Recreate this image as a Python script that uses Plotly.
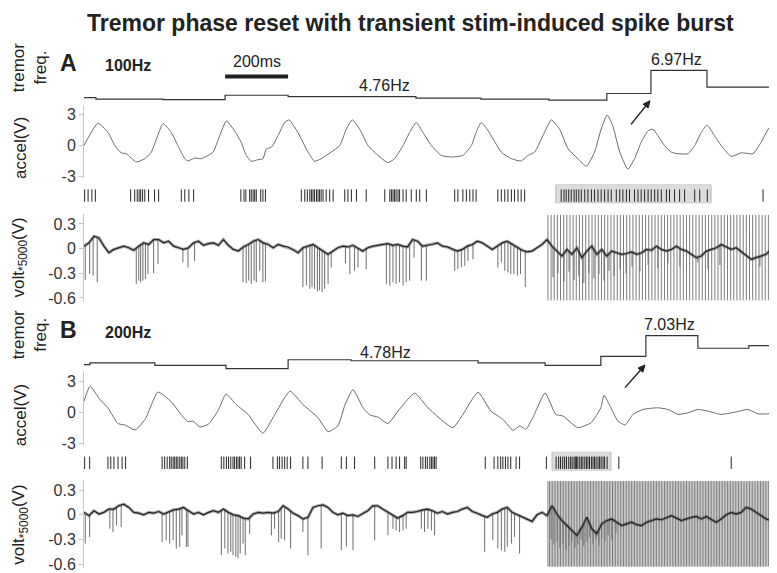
import numpy as np
import plotly.graph_objects as go

W, H = 777, 573
L, R = 76, 4
T_END = 2213          # ms across the plot width
STIM_ON = 1473        # ms, stimulation onset
FONT = "Liberation Sans, Arial, sans-serif"

# ---------------- panel A : 100Hz ----------------
STIM_RATE_A = 100
FREQ_A_T = [0, 38, 251, 448, 648, 1054, 1260, 1476, 1660, 1800, 1978, 2178]
FREQ_A = [4.68, 4.55, 4.51, 4.88, 4.76, 4.64, 4.55, 4.47, 5.03, 6.97, 5.56, 4.76]

ACCEL_A_T = [0, 44, 76, 98, 118, 134, 166, 193, 214, 230, 251, 277, 298, 320, 330, 351, 372, 394, 410, 431,
             452, 478, 499, 515, 531, 552, 568, 579, 595, 616, 637, 651, 679, 711, 732, 753, 785, 812, 833, 852,
             875, 902, 933, 965, 986, 1013, 1034, 1055, 1076, 1103, 1134, 1166, 1203, 1230, 1245, 1261, 1283,
             1325, 1357, 1388, 1410, 1431, 1457, 1484, 1510, 1537, 1568, 1595, 1621, 1642, 1661, 1679, 1701,
             1727, 1748, 1769, 1791, 1806, 1822, 1843, 1864, 1886, 1918, 1939, 1960, 1978, 2002, 2023, 2055,
             2087, 2124, 2150, 2177, 2198, 2213]
ACCEL_A = [0, 2.16, 1.27, 0, -0.70, -0.79, -1.59, -1.27, -0.63, 0.63, 2.13, 1.27, 0, -1.27, -1.49, -1.21, -1.27,
           -0.95, -0.63, 0.95, 2.38, 1.43, 0.32, -0.95, -1.52, -1.37, -1.27, -0.32, -0.16, 0.95, 2.22, 2.48, 1.27,
           -0.63, -1.52, -1.27, -0.63, 0, 1.59, 2.48, 1.59, 0, -0.95, -1.65, -1.27, 0, 1.27, 2.22, 1.27, 0, -0.95,
           -1.11, -0.95, 0, 1.27, 2.22, 1.43, -0.63, -1.27, -1.49, -0.95, -0.63, 0.95, 2.48, 1.59, -0.32, -1.27,
           -2.0, -0.63, 1.59, 2.95, 1.90, -0.63, -2.29, -1.27, 0.32, 1.43, 1.59, 0.95, 0, -0.63, -0.79, -0.79, 0,
           1.27, 1.97, 0.95, 0, -1.05, -0.70, -0.79, 0.32, 1.75, 1.27, 0.16]

SPIKES_A = [2, 13, 25, 36, 148, 161, 169, 175, 180, 186, 193, 205, 224, 237, 309, 320, 333, 348, 498, 508, 514,
            526, 531, 537, 542, 547, 561, 568, 576, 690, 701, 709, 717, 722, 727, 732, 738, 743, 748, 753, 759,
            769, 780, 791, 828, 838, 849, 865, 896, 955, 971, 976, 981, 986, 991, 997, 1002, 1013, 1023, 1039,
            1055, 1066, 1087, 1177, 1187, 1203, 1214, 1225, 1235, 1245, 1314, 1325, 1336, 1346, 1357, 1367, 1378,
            1388, 1399, 1515, 1524, 1531, 1539, 1547, 1556, 1563, 1571, 1579, 1590, 1600, 1611, 1621, 1632, 1642,
            1653, 1664, 1674, 1690, 1701, 1711, 1722, 1732, 1748, 1759, 1769, 1780, 1791, 1801, 1812, 1822, 1833,
            1849, 1859, 1875, 1891, 1907, 1939, 1955, 1979, 2156, 2177]
BOX_A = [1498, 1991]

# volt*5000 baseline, evenly sampled over the sweep
VOLT_A = [0.03, 0.07, 0.15, 0.13, 0.03, -0.05, -0.01, 0.01, 0.03, 0.01, -0.02, 0.03, 0.07, 0.05, 0.11, 0.11,
          0.07, 0.09, 0.03, 0.01, -0.01, 0.01, 0.07, 0.09, 0.04, 0.06, 0.07, 0.04, 0.11, 0.04, -0.01, -0.03,
          0.02, 0.05, 0.09, 0.11, 0.07, 0.05, 0.01, 0.05, 0.03, 0.02, -0.01, -0.05, 0.01, 0.03, 0.05, 0.01,
          -0.03, -0.07, -0.03, 0.01, 0.03, 0.02, 0.04, 0.0, -0.03, 0.01, 0.03, 0.04, 0.05, 0.06, 0.04, 0.05,
          0.03, 0.02,
          0.11, 0.09, 0.03, 0.04, 0.05, 0.07, 0.03, 0.02, -0.01, -0.03, -0.01, 0.03, 0.05, 0.09, 0.07, 0.03,
          -0.01, 0.03, 0.07, 0.09, 0.05, 0.01, -0.02, -0.04, -0.03, 0.01, 0.05, 0.11,
          0.03, -0.03, -0.09, -0.01, -0.07, 0.01, -0.11, -0.03, 0.03, -0.07, -0.01, -0.09, -0.03, -0.05, -0.07,
          -0.06, -0.04, -0.07, -0.05, -0.01, -0.02, 0.03, -0.01, -0.03, -0.01, 0.03, -0.01, -0.03, -0.07, -0.11,
          -0.09, -0.03, -0.01, 0.01, 0.05, 0.02, -0.01, 0.01, -0.04, -0.09, -0.13, -0.11, -0.09, -0.07, -0.01,
          0.03, 0.07]
UNIT_A_T = [4, 18, 29, 42, 166, 174, 180, 187, 195, 203, 221, 235, 314, 330, 351, 505, 515, 523, 531, 540, 547,
            558, 568, 576, 695, 706, 717, 724, 732, 741, 748, 756, 764, 775, 785, 830, 844, 859, 870, 896, 960,
            971, 981, 991, 1002, 1013, 1023, 1034, 1048, 1071, 1087, 1177, 1187, 1198, 1209, 1219, 1235, 1314,
            1325, 1336, 1346, 1355, 1365, 1376, 1386, 1401]
UNIT_A = [-0.38, -0.31, -0.33, -0.41, -0.43, -0.39, -0.41, -0.39, -0.37, -0.31, -0.30, -0.19, -0.17, -0.23, -0.15,
          -0.41, -0.42, -0.39, -0.43, -0.39, -0.41, -0.27, -0.41, -0.40, -0.47, -0.45, -0.49, -0.47, -0.49, -0.52,
          -0.51, -0.53, -0.49, -0.43, -0.23, -0.18, -0.31, -0.27, -0.23, -0.25, -0.43, -0.45, -0.41, -0.43, -0.41,
          -0.45, -0.41, -0.39, -0.11, -0.39, -0.39, -0.27, -0.25, -0.23, -0.21, -0.15, -0.13, -0.23, -0.17, -0.27,
          -0.29, -0.31, -0.31, -0.33, -0.31, -0.47]
BURST_A_T = [1489, 1505, 1524, 1540, 1556, 1571, 1587, 1603, 1619, 1635, 1651, 1667, 1683, 1702, 1721, 1740,
             1765, 1791, 1822, 1854, 1892, 1949, 1981, 2019, 2124, 2146]
BURST_A = [-0.35, -0.30, -0.40, -0.28, -0.38, -0.33, -0.42, -0.30, -0.36, -0.31, -0.39, -0.27, -0.33, -0.25,
           -0.30, -0.22, -0.28, -0.20, -0.24, -0.18, -0.22, -0.17, -0.25, -0.20, -0.15, -0.22]

# ---------------- panel B : 200Hz ----------------
STIM_RATE_B = 200
FREQ_B_T = [0, 19, 225, 451, 648, 848, 1251, 1464, 1641, 1784, 1949, 2111]
FREQ_B = [4.43, 4.58, 4.37, 4.07, 4.87, 4.78, 4.58, 4.37, 5.17, 7.03, 5.90, 6.14]

ACCEL_B_T = [0, 19, 51, 76, 108, 130, 162, 194, 235, 276, 308, 330, 346, 368, 394, 425, 451, 483, 521, 568, 600,
             654, 695, 743, 775, 806, 829, 854, 886, 908, 933, 965, 997, 1050, 1092, 1171, 1203, 1251, 1292, 1330,
             1362, 1384, 1403, 1425, 1464, 1498, 1521, 1568, 1610, 1641, 1651, 1673, 1695, 1718, 1743, 1775, 1822,
             1854, 1886, 1918, 1949, 1981, 2022, 2067, 2108, 2140, 2171, 2213]
ACCEL_B = [1.1, 2.55, 1.27, 0.48, -1.05, -1.18, -1.66, -0.64, 2.0, 1.1, -0.16, -0.86, -0.8, -1.37, -1.12, 0.16,
           1.8, 0.8, -0.16, -1.98, -0.48, 2.08, 0.8, -0.48, -1.82, -1.27, 0.8, 2.23, 0.48, -0.22, -0.41, -1.05,
           0.16, 1.9, 0.48, -1.44, -0.16, 1.98, 0.16, -0.64, -1.69, -1.27, -1.6, -0.48, 1.91, -0.16, -0.32, -1.44,
           -0.96, 0.48, 1.69, 0.48, -0.8, -1.18, -0.16, 0.32, 0.48, 0.32, -0.16, 0, 0.32, 0.16, -0.16, 0.06, 0.32,
           -0.1, -0.1, 0.32]

SPIKES_B = [2, 18, 76, 85, 95, 108, 121, 132, 248, 256, 264, 272, 277, 283, 288, 293, 298, 304, 309, 314, 320, 328,
            436, 444, 452, 459, 466, 473, 478, 484, 489, 494, 499, 510, 529, 600, 614, 621, 629, 637, 645, 656, 695,
            711, 756, 817, 833, 859, 923, 965, 978, 991, 1002, 1018, 1023, 1069, 1076, 1084, 1090, 1098, 1103,
            1108, 1113, 1118, 1274, 1302, 1314, 1323, 1330, 1338, 1346, 1355, 1372, 1383, 1468, 1499, 1507, 1513,
            1520, 1526, 1532, 1539, 1545, 1550, 1556, 1560, 1564, 1568, 1574, 1579, 1584, 1590, 1595, 1600, 1605,
            1611, 1616, 1621, 1626, 1632, 1637, 1642, 1648, 1653, 1661, 1698, 2055]
BOX_B = [1486, 1673]

VOLT_B = [0.03, -0.01, 0.05, 0.01, 0.03, 0.07, 0.07, 0.11, 0.13, 0.09, 0.03, 0.02, 0.0, 0.03, 0.02, 0.04, 0.01,
          0.04, 0.06, 0.07, 0.09, 0.05, 0.01, 0.03, 0.0, 0.03, 0.05, 0.03, 0.07, 0.03, 0.0, -0.01, -0.04, -0.05,
          0.01, 0.03, 0.02, 0.03, 0.02, 0.04, 0.11, 0.07, 0.02, -0.01, -0.05, -0.03, 0.09, 0.11, 0.12, 0.09, 0.03,
          0.0, 0.02, -0.01, 0.0, -0.02, 0.01, 0.05, 0.11, 0.11, 0.07, 0.03, 0.0, -0.04, -0.01, 0.03,
          0.03, 0.04, 0.06, 0.07, 0.05, 0.02, 0.04, 0.01, 0.03, 0.04, 0.07, 0.09, 0.04, 0.02, -0.01, -0.03, 0.01,
          0.03, 0.07, 0.09, 0.03, 0.0, -0.03, -0.05, -0.08, 0.0, 0.03, -0.01,
          0.11, 0.01, -0.07, -0.13, -0.19, -0.25, -0.15, -0.03, -0.17, -0.23, -0.11, -0.07, -0.05, -0.09, -0.13,
          -0.11, -0.09, -0.12, -0.13, -0.09, -0.07, -0.05, -0.06, -0.03, -0.01, -0.04, -0.07, -0.05, -0.03, -0.02,
          -0.05, -0.02, -0.06, -0.09, -0.05, 0.0, 0.03, 0.01, 0.03, 0.09, 0.07, 0.03, -0.01, -0.05, -0.07, -0.05,
          -0.03]
UNIT_B_T = [4, 18, 82, 92, 103, 118, 248, 261, 272, 283, 293, 304, 311, 325, 330, 436, 447, 457, 466, 473, 482,
            489, 496, 505, 512, 526, 595, 605, 618, 626, 637, 656, 695, 711, 753, 817, 833, 854, 923, 965, 981,
            991, 1002, 1013, 1023, 1071, 1081, 1092, 1103, 1113, 1272, 1298, 1314, 1325, 1336, 1344, 1357, 1367,
            1383]
UNIT_B = [-0.35, -0.27, -0.17, -0.21, -0.13, -0.15, -0.33, -0.31, -0.35, -0.31, -0.41, -0.39, -0.25, -0.39, -0.39,
          -0.49, -0.41, -0.47, -0.45, -0.49, -0.51, -0.53, -0.47, -0.35, -0.49, -0.23, -0.25, -0.17, -0.33, -0.29,
          -0.31, -0.41, -0.21, -0.49, -0.41, -0.43, -0.39, -0.43, -0.31, -0.25, -0.17, -0.19, -0.21, -0.19, -0.17,
          -0.17, -0.21, -0.17, -0.19, -0.25, -0.45, -0.31, -0.41, -0.43, -0.45, -0.39, -0.35, -0.27, -0.47]
BURST_B_T = [1483, 1492, 1502, 1511, 1521, 1530, 1540, 1549, 1559, 1568, 1578, 1587, 1597, 1606, 1616, 1625, 1635,
             1644, 1654, 1664, 1676, 1689]
BURST_B = [-0.30, -0.36, -0.33, -0.40, -0.35, -0.42, -0.38, -0.33, -0.40, -0.36, -0.30, -0.38, -0.33, -0.27,
           -0.35, -0.30, -0.37, -0.28, -0.32, -0.25, -0.30, -0.22]

ARTIFACT_RANGE = [0.41, -0.63]


def py(px):
    # pixel row -> paper y (no top/bottom margin)
    return 1 - px / H


def xp(px):
    # pixel column -> paper x
    return (px - L) / (W - L - R)


def dom(top, bottom):
    return [py(bottom), py(top)]


def vlines(ts, y0, y1):
    xs, ys = [], []
    for i, t in enumerate(ts):
        a = y0[i] if hasattr(y0, "__len__") else y0
        b = y1[i] if hasattr(y1, "__len__") else y1
        xs += [t, t, None]
        ys += [a, b, None]
    return xs, ys


fig = go.Figure()
panels = [
    dict(freq_t=FREQ_A_T, freq=FREQ_A, acc_t=ACCEL_A_T, acc=ACCEL_A, spikes=SPIKES_A, box=BOX_A,
         volt=VOLT_A, unit_t=UNIT_A_T, unit=UNIT_A, burst_t=BURST_A_T, burst=BURST_A, rate=STIM_RATE_A,
         ax=["y", "y2", "y3", "y4"]),
    dict(freq_t=FREQ_B_T, freq=FREQ_B, acc_t=ACCEL_B_T, acc=ACCEL_B, spikes=SPIKES_B, box=BOX_B,
         volt=VOLT_B, unit_t=UNIT_B_T, unit=UNIT_B, burst_t=BURST_B_T, burst=BURST_B, rate=STIM_RATE_B,
         ax=["y5", "y6", "y7", "y8"]),
]

for p in panels:
    yf, ya, yr, yv = p["ax"]
    fig.add_trace(go.Scatter(x=p["freq_t"] + [T_END], y=p["freq"] + [p["freq"][-1]], mode="lines",
                             line=dict(color="#333333", width=1.2, shape="hv"), yaxis=yf))
    fig.add_trace(go.Scatter(x=p["acc_t"], y=p["acc"], mode="lines",
                             line=dict(color="#6a6a6a", width=1, shape="spline", smoothing=0.5), yaxis=ya))
    xs, ys = vlines(p["spikes"], 0.08, 0.74)
    fig.add_trace(go.Scatter(x=xs, y=ys, mode="lines", line=dict(color="#262626", width=1), yaxis=yr))

    # volt trace: stim artifacts, unit spikes, then the noisy baseline
    stim = np.arange(STIM_ON, T_END, 1000 / p["rate"])
    xs, ys = vlines(stim, ARTIFACT_RANGE[0], ARTIFACT_RANGE[1])
    fig.add_trace(go.Scatter(x=xs, y=ys, mode="lines", line=dict(color="#7d7d7d", width=1), yaxis=yv))
    tv = np.linspace(0, T_END, len(p["volt"]))
    ut = p["unit_t"] + p["burst_t"]
    ua = p["unit"] + p["burst"]
    base = np.interp(ut, tv, p["volt"])
    xs, ys = vlines(ut, base, ua)
    fig.add_trace(go.Scatter(x=xs, y=ys, mode="lines", line=dict(color="#6e6e6e", width=1), yaxis=yv))
    # soft band under the dark core of the noisy baseline
    fig.add_trace(go.Scatter(x=tv, y=p["volt"], mode="lines", line=dict(color="#5a5a5a", width=3.2),
                             opacity=0.5, yaxis=yv))
    fig.add_trace(go.Scatter(x=tv, y=p["volt"], mode="lines", line=dict(color="#222222", width=1.2), yaxis=yv))

tickfont = dict(family=FONT, size=16, color="#333333")
hidden = dict(visible=False, showgrid=False, zeroline=False, anchor="x")
acc_axis = dict(range=[-3.095, 3.95], tickvals=[3, 0, -3], ticktext=["3", "0", "-3"], showline=True,
                linecolor="#c8c8c8", ticks="outside", ticklen=4, tickcolor="#c8c8c8", showgrid=False,
                zeroline=False, tickfont=tickfont, anchor="x")
volt_axis = dict(range=[-0.648, 0.42], tickvals=[0.3, 0, -0.3, -0.6], ticktext=["0.3", "0", "-0.3", "-0.6"],
                 showline=True, linecolor="#c8c8c8", ticks="outside", ticklen=4, tickcolor="#c8c8c8",
                 showgrid=False, zeroline=False, tickfont=tickfont, anchor="x")

fig.update_layout(
    width=W, height=H, margin=dict(l=L, r=R, t=0, b=0), showlegend=False,
    paper_bgcolor="white", plot_bgcolor="white", font=dict(family=FONT, color="#222222"),
    xaxis=dict(range=[0, T_END], visible=False, showgrid=False, zeroline=False),
    yaxis=dict(domain=dom(60, 96), range=[4.26, 7.24], **hidden),
    yaxis2=dict(domain=dom(98, 172), **acc_axis),
    yaxis3=dict(domain=dom(179, 198), range=[0, 1], **hidden),
    yaxis4=dict(domain=dom(209, 298), **volt_axis),
    yaxis5=dict(domain=dom(326, 368), range=[3.87, 7.59], **hidden),
    yaxis6=dict(domain=dom(369, 443), **acc_axis),
    yaxis7=dict(domain=dom(450, 469), range=[0, 1], **hidden),
    yaxis8=dict(domain=dom(479, 568), **volt_axis),
)

for box, yr in [(BOX_A, "y3"), (BOX_B, "y7")]:
    fig.add_shape(type="rect", xref="x", yref=yr, x0=box[0], x1=box[1], y0=0, y1=1,
                  fillcolor="#dcdcdc", line=dict(color="#b8b8b8", width=1), layer="below")

# 200 ms scale bar
fig.add_shape(type="line", xref="x", yref="paper", x0=448, x1=648, y0=py(69.5), y1=py(69.5),
              line=dict(color="#222222", width=4))


def arrow(head, tail, size=7.0, half=3.2):
    # arrow drawn as a shaft plus a filled head, positions in pixels
    hx, hy = head
    tx, ty = tail
    d = np.hypot(hx - tx, hy - ty)
    ux, uy = (hx - tx) / d, (hy - ty) / d
    bx, by = hx - size * ux, hy - size * uy
    fig.add_shape(type="line", xref="paper", yref="paper", x0=xp(tx), y0=py(ty), x1=xp(bx), y1=py(by),
                  line=dict(color="#222222", width=1.5))
    p1 = (bx - half * uy, by + half * ux)
    p2 = (bx + half * uy, by - half * ux)
    path = "M %f %f L %f %f L %f %f Z" % (xp(hx), py(hy), xp(p1[0]), py(p1[1]), xp(p2[0]), py(p2[1]))
    fig.add_shape(type="path", xref="paper", yref="paper", path=path, fillcolor="#222222",
                  line=dict(color="#222222", width=1))


def note(text, x, y, size=16, bold=False, xref="paper", angle=0):
    t = "<b>%s</b>" % text if bold else text
    fig.add_annotation(text=t, x=x, y=py(y), xref=xref, yref="paper", showarrow=False, textangle=angle,
                       xanchor="center", yanchor="middle", font=dict(family=FONT, size=size, color="#222222"))


note("Tremor phase reset with transient stim-induced spike burst", xp(402), 15, size=23, bold=True)
note("200ms", 548, 54, xref="x")
for off, lab, rate, fq, f_mid, f_hi, head, tail in [
        (0, "A", "100Hz", FREQ_A, (955, 79, 4), (1882, 52, 9), (642, 94), (623, 118)),
        (271, "B", "200Hz", FREQ_B, (958, 349, 5), (1860, 321, 9), (637, 362), (617, 385))]:
    note(lab, xp(60), 56 + off, size=23, bold=True)
    note(rate, xp(120), 58 + off, size=16, bold=True)
    note("tremor<br>freq.", xp(21), 61 + off, size=17, angle=-90)
    note("accel(V)", xp(12), 142 + off, size=17, angle=-90)
    note("volt<sub>*5000</sub>(V)", xp(12), 253 + off, size=17, angle=-90)
    note("%.2fHz" % fq[f_mid[2]], f_mid[0], f_mid[1], xref="x")
    note("%.2fHz" % fq[f_hi[2]], f_hi[0], f_hi[1], xref="x")
    arrow(head, tail)

fig.write_html("out.html")
